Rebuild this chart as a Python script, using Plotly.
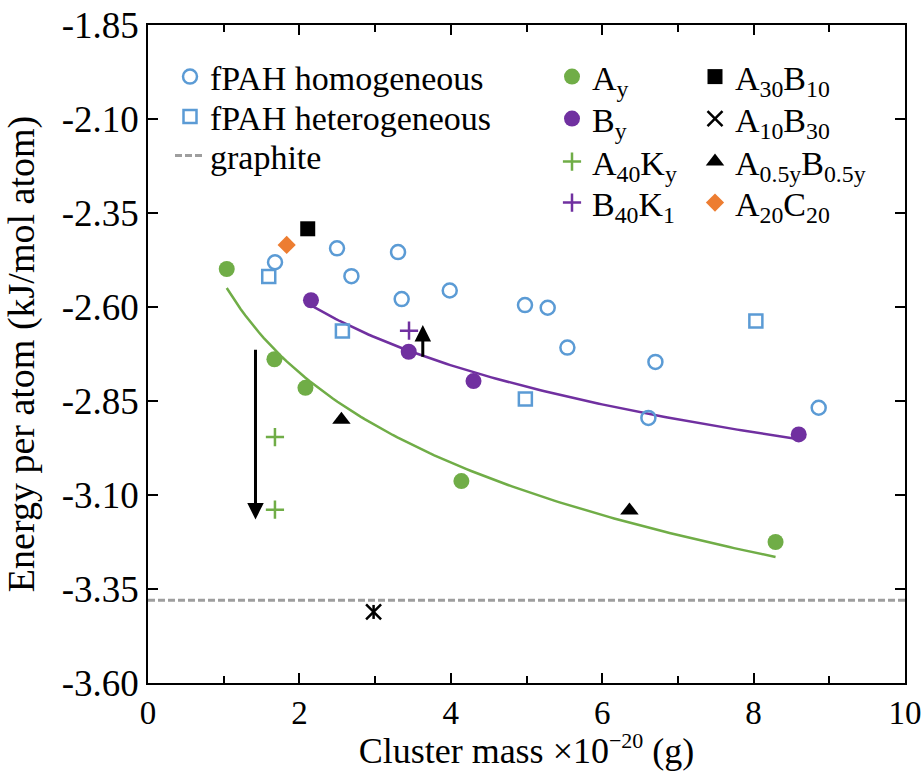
import numpy as np
import plotly.graph_objects as go

# ---------------- data ----------------
homo_x = [1.678, 2.497, 2.687, 3.303, 3.351, 3.986, 4.980, 5.280, 5.540, 6.703, 6.610, 8.860]
homo_y = [-2.481, -2.444, -2.518, -2.454, -2.579, -2.556, -2.595, -2.602, -2.708, -2.746, -2.895, -2.868]

hetero_x = [1.595, 2.568, 4.985, 8.030]
hetero_y = [-2.519, -2.664, -2.845, -2.637]

graphite_e = -3.38
graphite_x = [0, 10]

ay_x = [1.04, 1.67, 2.08, 4.14, 8.29]
ay_y = [-2.499, -2.739, -2.815, -3.063, -3.225]

by_x = [2.153, 3.444, 4.30, 8.596]
by_y = [-2.582, -2.719, -2.797, -2.939]

a40ky_x = [1.677, 1.677]
a40ky_y = [-2.946, -3.139]

b40k1_x = [3.448]
b40k1_y = [-2.663]

a30b10_x = [2.11]
a30b10_y = [-2.392]

a10b30_x = [2.98]
a10b30_y = [-3.411]

ahalf_x = [2.555, 6.36]
ahalf_y = [-2.900, -3.141]

a20c20_x = [1.832]
a20c20_y = [-2.435]

# arrows: x, tail y, head y
arrow_x = [1.42, 3.63]
arrow_tail_y = [-2.710, -2.736]
arrow_head_y = [-3.165, -2.648]

x_ticks = [0, 2, 4, 6, 8, 10]
y_ticks = [-1.85, -2.10, -2.35, -2.60, -2.85, -3.10, -3.35, -3.60]
y_tick_labels = ["-1.85", "-2.10", "-2.35", "-2.60", "-2.85", "-3.10", "-3.35", "-3.60"]

# ---------------- style ----------------
BLUE = "#5B9BD5"
GREEN = "#70AD47"
PURPLE = "#7030A0"
ORANGE = "#ED7D31"
GREY = "#9E9E9E"
FONT = "Liberation Serif"

W, H = 922, 771
ML, MR, MT, MB = 148, 17, 25, 88
PW, PH = W - ML - MR, H - MT - MB


def log_fit(xs, ys, n=120):
    lx = np.log(np.array(xs))
    b, a = np.polyfit(lx, np.array(ys), 1)
    xx = np.linspace(min(xs), max(xs), n)
    return xx, a + b * np.log(xx)


def leg_pos(text_px, row_py):
    return (text_px - 40 - ML) / PW, (H - MB - row_py) / PH


fig = go.Figure()

# logarithmic trendlines fitted to the A_y and B_y series
gx, gy = log_fit(ay_x, ay_y)
fig.add_trace(go.Scatter(x=gx, y=gy, mode="lines", line=dict(color=GREEN, width=2.5),
                         showlegend=False, hoverinfo="skip"))
px_, py_ = log_fit(by_x, by_y)
fig.add_trace(go.Scatter(x=px_, y=py_, mode="lines", line=dict(color=PURPLE, width=2.5),
                         showlegend=False, hoverinfo="skip"))

fig.add_trace(go.Scatter(x=graphite_x, y=[graphite_e] * len(graphite_x), mode="lines", name="graphite",
                         line=dict(color=GREY, width=3, dash="7px,3px"), legend="legend3"))
fig.add_trace(go.Scatter(x=homo_x, y=homo_y, mode="markers", name="fPAH homogeneous",
                         marker=dict(symbol="circle-open", size=14, color=BLUE, line=dict(width=2.5, color=BLUE)),
                         legend="legend"))
fig.add_trace(go.Scatter(x=hetero_x, y=hetero_y, mode="markers", name="fPAH heterogeneous",
                         marker=dict(symbol="square-open", size=13, color=BLUE, line=dict(width=2.5, color=BLUE)),
                         legend="legend2"))
fig.add_trace(go.Scatter(x=ay_x, y=ay_y, mode="markers", name="A<sub>y</sub>",
                         marker=dict(symbol="circle", size=16, color=GREEN), legend="legend4"))
fig.add_trace(go.Scatter(x=by_x, y=by_y, mode="markers", name="B<sub>y</sub>",
                         marker=dict(symbol="circle", size=16, color=PURPLE), legend="legend5"))
fig.add_trace(go.Scatter(x=a40ky_x, y=a40ky_y, mode="markers", name="A<sub>40</sub>K<sub>y</sub>",
                         marker=dict(symbol="cross-thin-open", size=13, color=GREEN, line=dict(width=2.5, color=GREEN)),
                         legend="legend6"))
fig.add_trace(go.Scatter(x=b40k1_x, y=b40k1_y, mode="markers", name="B<sub>40</sub>K<sub>1</sub>",
                         marker=dict(symbol="cross-thin-open", size=13, color=PURPLE, line=dict(width=2.5, color=PURPLE)),
                         legend="legend7"))
fig.add_trace(go.Scatter(x=a30b10_x, y=a30b10_y, mode="markers", name="A<sub>30</sub>B<sub>10</sub>",
                         marker=dict(symbol="square", size=15, color="black"), legend="legend8"))
fig.add_trace(go.Scatter(x=a10b30_x, y=a10b30_y, mode="markers", name="A<sub>10</sub>B<sub>30</sub>",
                         marker=dict(symbol="x-thin-open", size=15, color="black", line=dict(width=2.5, color="black")),
                         legend="legend9", legendgroup="a10b30"))
fig.add_trace(go.Scatter(x=a10b30_x, y=a10b30_y, mode="markers", showlegend=False,
                         marker=dict(symbol="line-ns-open", size=10, color="black", line=dict(width=2.5, color="black")),
                         legend="legend9", legendgroup="a10b30"))
fig.add_trace(go.Scatter(x=ahalf_x, y=ahalf_y, mode="markers", name="A<sub>0.5y</sub>B<sub>0.5y</sub>",
                         marker=dict(symbol="triangle-up", size=16, color="black"), legend="legend10"))
fig.add_trace(go.Scatter(x=a20c20_x, y=a20c20_y, mode="markers", name="A<sub>20</sub>C<sub>20</sub>",
                         marker=dict(symbol="diamond", size=14, color=ORANGE), legend="legend11"))

for xa, yt, yh in zip(arrow_x, arrow_tail_y, arrow_head_y):
    fig.add_annotation(x=xa, y=yh, ax=xa, ay=yt, xref="x", yref="y", axref="x", ayref="y",
                       showarrow=True, arrowhead=2, arrowsize=1.1, arrowwidth=3, arrowcolor="black",
                       standoff=0, startstandoff=0, text="")

legend_common = dict(font=dict(family=FONT, size=34, color="black"), bgcolor="rgba(0,0,0,0)",
                     borderwidth=0, xanchor="left", yanchor="middle", tracegroupgap=0,
                     itemwidth=30, orientation="v")
# legend slots: (text-start x px, row centre y px)
legend_slots = {
    "legend": (210, 77), "legend2": (210, 117), "legend3": (210, 156),
    "legend4": (592, 77), "legend5": (592, 119), "legend6": (592, 162), "legend7": (592, 203),
    "legend8": (735, 77), "legend9": (735, 119), "legend10": (735, 162), "legend11": (735, 203),
}
legends = {}
for key, (tx, ty) in legend_slots.items():
    lx, ly = leg_pos(tx, ty)
    legends[key] = dict(x=lx, y=ly, **legend_common)

fig.update_layout(
    width=W, height=H,
    margin=dict(l=ML, r=MR, t=MT, b=MB, autoexpand=False),
    paper_bgcolor="white", plot_bgcolor="white",
    font=dict(family=FONT, size=33, color="black"),
    xaxis=dict(range=[0, 10], tickvals=x_ticks, ticks="inside", ticklen=10, tickwidth=1.5,
               tickcolor="black", showline=True, linecolor="black", linewidth=1.5, mirror="ticks",
               showgrid=False, zeroline=False,
               minor=dict(dtick=1, ticks="inside", ticklen=7, tickwidth=1.5, tickcolor="black", showgrid=False),
               tickfont=dict(family=FONT, size=33, color="black"),
               title=dict(text="Cluster mass ×10<sup><span style='font-size:22px'>−20</span></sup> (g)",
                          font=dict(family=FONT, size=36, color="black"), standoff=6)),
    yaxis=dict(range=[-3.60, -1.85], tickvals=y_ticks, ticktext=y_tick_labels, ticks="inside", ticklen=10,
               tickwidth=1.5, tickcolor="black", showline=True, linecolor="black", linewidth=1.5,
               mirror="ticks", showgrid=False, zeroline=False,
               tickfont=dict(family=FONT, size=37, color="black"),
               title=dict(text="Energy per atom (kJ/mol atom)", font=dict(family=FONT, size=38, color="black"),
                          standoff=19)),
    **legends,
)

fig.write_html("out.html")
